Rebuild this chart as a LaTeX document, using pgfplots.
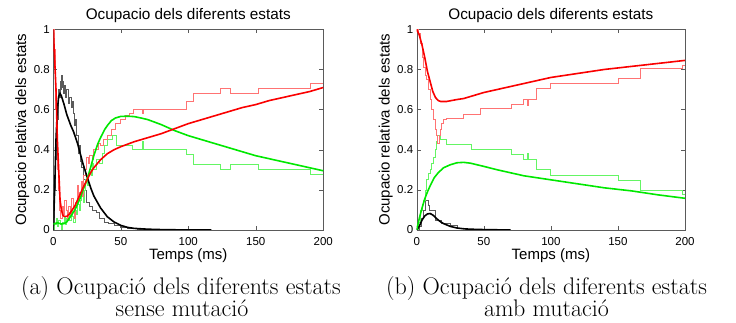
\documentclass[border=0pt]{standalone}
\usepackage{pgfplots}
\pgfplotsset{compat=1.18}
\usepackage{fontspec}
\newfontfamily\hv{Liberation Sans}
\definecolor{tred}{RGB}{255,115,115}
\definecolor{tgreen}{RGB}{100,245,100}
\definecolor{tblack}{RGB}{90,90,90}
\definecolor{kred}{RGB}{250,0,0}
\definecolor{kgreen}{RGB}{0,232,0}
\definecolor{frame}{RGB}{90,90,90}

% ---------- panel (a): sense mutacio ----------
\pgfplotstableread{
t y
0 1
1 0.85
2 0.7
3 0.45
4 0.3
5 0.15
6 0.1
7 0.075
8 0.068
10 0.068
12 0.08
14 0.1
16 0.12
18 0.15
20 0.18
22 0.21
25 0.25
28 0.29
30 0.31
35 0.35
40 0.38
45 0.40
50 0.415
60 0.44
70 0.46
80 0.48
90 0.505
100 0.53
110 0.55
120 0.57
130 0.59
140 0.61
150 0.625
160 0.645
170 0.66
180 0.675
190 0.69
200 0.71
}\redA
\pgfplotstableread{
t y
0 0.03
3 0.036
6 0.03
8 0.032
10 0.04
13 0.07
16 0.1
18 0.13
20 0.16
22 0.2
25 0.25
28 0.32
30 0.37
33 0.43
35 0.46
38 0.5
40 0.52
43 0.545
46 0.558
50 0.566
55 0.567
60 0.565
65 0.558
70 0.55
80 0.525
90 0.495
100 0.47
110 0.45
120 0.43
130 0.41
140 0.39
150 0.37
160 0.355
170 0.34
180 0.325
190 0.31
200 0.295
}\greenA
\pgfplotstableread{
t y
0 0
1 0.2
2 0.45
3 0.6
4 0.665
5 0.68
6 0.668
8 0.625
10 0.575
13 0.52
15 0.49
18 0.43
20 0.38
22 0.33
25 0.265
28 0.205
30 0.17
35 0.11
40 0.066
45 0.04
50 0.023
55 0.013
60 0.008
70 0.004
80 0.002
90 0.001
117 0
}\blackA
\pgfplotstableread{
t y
0 1
0.6 0.9
1.2 0.75
1.8 0.6
2.4 0.45
3 0.3
3.6 0.2
4.2 0.15
4.8 0.1
5.5 0.06
6.5 0.12
7.5 0.08
8.5 0.15
9.5 0.1
10.5 0.05
11.5 0.12
12.5 0.08
13.5 0.16
14.5 0.11
15.5 0.06
16.5 0.14
17.5 0.22
18.5 0.15
19.5 0.19
20.5 0.24
21.5 0.17
22.5 0.27
23.5 0.3
24.5 0.36
26 0.33
27 0.37
29 0.35
30 0.4
33 0.43
35 0.42
37 0.45
40 0.47
43 0.5
46 0.53
50 0.55
53 0.57
56 0.58
59.3 0.6
66 0.58
66.6 0.6
98.8 0.64
103.7 0.68
123.5 0.705
130.9 0.68
151.9 0.705
190.1 0.73
200 0.73
}\tredA
\pgfplotstableread{
t y
0 0
1 0.03
2 0.06
3 0.02
4 0.05
5 0.03
6 0.0
7 0.04
8 0.07
9 0.03
10 0.06
11 0.09
12 0.05
13 0.1
14 0.07
15 0.04
16 0.1
17 0.08
18 0.13
19 0.1
20 0.15
21 0.18
22 0.14
23 0.2
24 0.25
25 0.22
26 0.28
27 0.3
28 0.27
29 0.33
30 0.3
32 0.35
34 0.33
36 0.38
38 0.42
40 0.45
44 0.473
47 0.423
58.5 0.404
66 0.44
66.6 0.404
98.8 0.375
103.7 0.325
123.5 0.3
130.9 0.325
151.9 0.3
190.1 0.275
200 0.275
}\tgreenA
\pgfplotstableread{
t y
0 0
0.5 0.08
1 0.2
1.5 0.35
2 0.45
2.5 0.38
3 0.55
3.5 0.62
4 0.7
4.5 0.66
5 0.74
5.5 0.7
6 0.77
6.5 0.71
7 0.74
7.5 0.68
8 0.72
9 0.66
10 0.7
11 0.63
12 0.66
13 0.61
14 0.64
14.8 0.58
15.5 0.52
16.3 0.55
17.3 0.47
18.5 0.38
19.5 0.42
20.3 0.34
21 0.31
22 0.25
23.5 0.2
24.7 0.14
27 0.12
29 0.1
32 0.09
34 0.06
38 0.04
41 0.035
45 0.025
50 0.015
55 0.01
62 0.005
75 0.003
100 0.002
116 0
}\tblackA

% ---------- panel (b): amb mutacio ----------
\pgfplotstableread{
t y
0 1
2 0.97
4 0.92
6 0.86
8 0.79
10 0.74
12 0.69
14 0.66
16 0.645
18 0.64
22 0.64
26 0.645
30 0.65
35 0.655
40 0.665
50 0.685
60 0.70
70 0.715
80 0.73
90 0.745
100 0.76
120 0.78
140 0.80
160 0.815
180 0.83
200 0.845
}\redB
\pgfplotstableread{
t y
0 0
2 0.06
4 0.11
6 0.155
8 0.19
10 0.22
13 0.26
16 0.285
20 0.31
25 0.325
30 0.335
35 0.337
40 0.333
50 0.317
60 0.30
70 0.285
80 0.27
90 0.26
100 0.25
120 0.23
140 0.21
160 0.195
180 0.175
200 0.158
}\greenB
\pgfplotstableread{
t y
0 0
2 0.02
4 0.05
6 0.07
8 0.08
10 0.082
12 0.075
14 0.062
16 0.05
18 0.04
20 0.032
25 0.018
30 0.01
35 0.006
40 0.004
50 0.002
60 0.001
70 0
}\blackB
\pgfplotstableread{
t y
0 1
1 0.98
2.5 0.93
4 0.86
5 0.81
6.3 0.77
7.5 0.75
8.7 0.7
10 0.65
11.2 0.6
12.4 0.55
13.6 0.5
14.9 0.47
15.5 0.43
16.7 0.47
17.4 0.5
18.6 0.53
20 0.55
22.4 0.556
35 0.576
47.2 0.606
70.8 0.626
79.5 0.651
82.5 0.62
83.5 0.651
89.4 0.706
99.4 0.73
150 0.756
167 0.806
198 0.82
200 0.82
}\tredB
\pgfplotstableread{
t y
0 0
1 0.04
2.5 0.1
4 0.13
5 0.15
6.3 0.2
7.5 0.25
8.7 0.28
10 0.3
11.2 0.33
12.4 0.36
13.6 0.4
14.9 0.44
15.5 0.47
17.4 0.452
22.4 0.427
41 0.402
70.8 0.377
79.5 0.352
82.5 0.38
83.5 0.352
89.4 0.3
99.4 0.274
150 0.249
167 0.2
198 0.18
200 0.18
}\tgreenB
\pgfplotstableread{
t y
0 0
2 0.02
3.5 0.06
5 0.1
6.2 0.15
8.7 0.125
9.7 0.1
13.7 0.05
18.6 0.035
25 0.025
30 0.01
36 0.005
45 0
}\tblackB

\pgfplotsset{
  myax/.style={
    scale only axis, height=200.7pt,
    xmin=0, xmax=200, ymin=0, ymax=1,
    xtick={0,50,100,150,200},
    ytick={0,0.2,0.4,0.6,0.8,1},
    tick align=inside, xtick pos=both, ytick pos=both,
    major tick length=4pt,
    axis line style={draw=frame},
    every tick/.style={draw=frame},
    /pgf/number format/assume math mode=true,
    tick label style={font=\hv\fontsize{11.5}{13}\selectfont},
    xticklabel style={anchor=center, yshift=-12pt},
    title style={font=\hv\fontsize{15.3}{18}\selectfont, at={(axis description cs:0.5,1.0498)}, anchor=base, yshift=-6pt},
    xlabel style={font=\hv\fontsize{15}{18}\selectfont, at={(axis description cs:0.5,-0.1296)}, anchor=center},
    ylabel style={font=\hv\fontsize{15}{18}\selectfont, at={(axis description cs:-0.115,0.5)}, anchor=center},
    title={Ocupacio dels diferents estats},
    xlabel={Temps (ms)},
    ylabel={Ocupacio relativa dels estats},
  },
  thinline/.style={const plot, line width=0.7pt},
  thickline/.style={line width=1.6pt},
}

\begin{document}
\begin{tikzpicture}
\useasboundingbox (0pt,0pt) rectangle (736pt,323pt);
\begin{axis}[myax, at={(53.3pt,93pt)}, anchor=south west, width=270pt]
\addplot[thinline, tblack] table[x=t,y=y] {\tblackA};
\addplot[thinline, tgreen] table[x=t,y=y] {\tgreenA};
\addplot[thinline, tred] table[x=t,y=y] {\tredA};
\addplot[thickline, black] table[x=t,y=y] {\blackA};
\addplot[thickline, kgreen] table[x=t,y=y] {\greenA};
\addplot[thickline, kred] table[x=t,y=y] {\redA};
\end{axis}
\begin{axis}[myax, at={(416.7pt,93pt)}, anchor=south west, width=268.3pt]
\addplot[thinline, tblack] table[x=t,y=y] {\tblackB};
\addplot[thinline, tgreen] table[x=t,y=y] {\tgreenB};
\addplot[thinline, tred] table[x=t,y=y] {\tredB};
\addplot[thickline, black] table[x=t,y=y] {\blackB};
\addplot[thickline, kgreen] table[x=t,y=y] {\greenB};
\addplot[thickline, kred] table[x=t,y=y] {\redB};
\end{axis}
\begin{scope}[every node/.style={anchor=base, inner sep=0pt, font=\fontsize{24}{26}\selectfont}]
\node at (181pt,28.5pt) {(a) Ocupació dels diferents estats};
\node at (182pt,6.3pt) {sense mutació};
\node at (546.5pt,28.5pt) {(b) Ocupació dels diferents estats};
\node at (546.5pt,6.3pt) {amb mutació};
\end{scope}
\end{tikzpicture}
\end{document}
